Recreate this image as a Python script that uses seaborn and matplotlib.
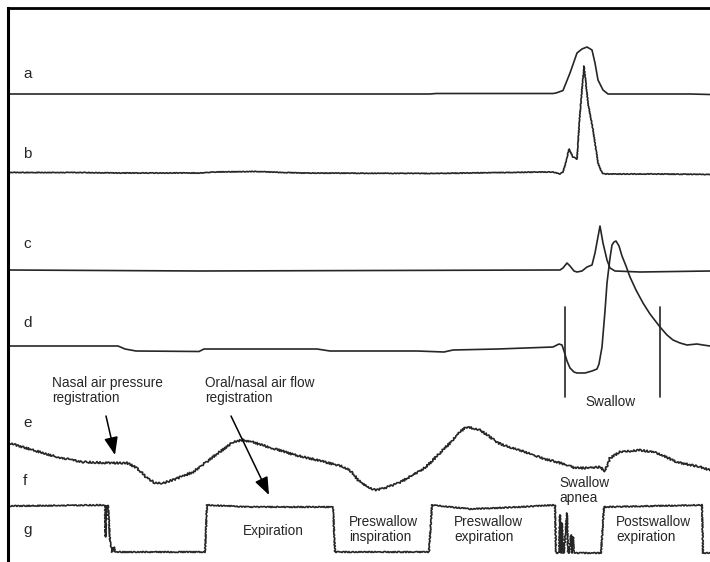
import matplotlib
matplotlib.use("Agg")
import matplotlib.pyplot as plt
import seaborn as sns

# traces: time (px along the sweep) and deflection
# (px, positive = upward) relative to each channel's resting line
t_a = [8, 60, 110, 430, 436, 553, 556, 563, 570, 577, 582, 587, 592, 595, 598, 603, 608, 690, 710]
v_a = [0, 0, 0, 0, 0.5, 0.5, 1, 3.5, 21, 41, 45, 47, 44, 31, 14, 4, 0, 0, -0.5]

t_b = [8, 80, 120, 200, 215, 255, 300, 430, 545, 553, 560, 563, 566, 569, 573, 577, 580, 584,
       588, 593, 598, 602, 605, 660, 710]
v_b = [0.5, 0.5, 0, 0, 1, 1.5, 0, -0.5, 1, 1, -1, 1, 11, 24, 16, 14, 60, 107,
       70, 43, 10, 0, -1, -1, -1.5]

t_c = [8, 200, 553, 560, 563, 567, 570, 574, 577, 582, 587, 592, 595, 600, 603, 607, 610, 615, 640, 710]
v_c = [1, 0, 1, 1, 3, 8, 5, 0, -1, 0, 4, 6, 18, 45, 28, 11, 3, 0, -1, 0]

t_d = [8, 118, 125, 136, 199, 204, 317, 330, 344, 417, 444, 453, 498, 553, 559, 562, 564, 567,
       570, 574, 577, 585, 592, 597, 599, 602, 605, 607, 610, 612, 614, 616, 619, 622, 626,
       630, 636, 643, 650, 660, 667, 673, 680, 687, 697, 703, 710]
v_d = [0, 0, -3, -5, -5.5, -3, -3, -5, -5, -5, -6, -4, -3, -1, 2, 1, -5, -15,
       -22, -26, -27, -27, -25, -23, -18, -1, 35, 63, 88, 101, 104, 105, 100, 90, 80,
       69, 56, 43, 32, 19, 11, 6, 3, 1, 2, 1, 0]

t_ef = [9, 33, 57, 83, 110, 127, 137, 147, 155, 163, 173, 193, 213, 233, 243, 252, 272, 295,
        317, 344, 352, 358, 367, 376, 385, 399, 413, 426, 440, 453, 460, 466, 472, 480, 490,
        498, 512, 525, 533, 545, 557, 567, 575, 590, 600, 605, 610, 620, 640, 657, 677, 700, 710]
v_ef = [17, 10, 3, -2, -3, -3, -8, -18, -23, -23, -20, -12, 3, 18, 20, 18, 12, 5,
        0, -7, -12, -20, -27, -30, -28, -23, -15, -7, 7, 20, 28, 33, 32, 30, 23,
        17, 12, 8, 5, 1, -2, -5, -8, -8, -7, -11, 2, 8, 10, 7, -2, -7, -10]

t_g = [9, 105, 105.5, 106.5, 108, 110, 112, 114, 115, 117, 205, 207, 250, 333, 335, 429, 432,
       470, 520, 555, 556, 559, 560, 561, 562, 563, 564, 567, 568, 569, 571, 572, 573, 574,
       575, 577, 601, 604, 702, 703, 710]
v_g = [-1, 0, -32, -1, 0, -35, -47, -42, -47, -47, -47, 0, -2, -2, -47, -47, 0,
       -4, -2, 0, -48, -48, -10, -48, -18, -48, -48, -8, -48, -48, -30, -48, -32, -48,
       -48, -48, -48, -2, 0, -48, -48]

channel_labels = ["a", "b", "c", "d", "e", "f", "g"]
annotations = [
    ("Nasal air pressure\nregistration", "left"),
    ("Oral/nasal air flow\nregistration", "left"),
    ("Swallow", "center"),
    ("Swallow\napnea", "left"),
    ("Expiration", "center"),
    ("Preswallow\ninspiration", "left"),
    ("Preswallow\nexpiration", "left"),
    ("Postswallow\nexpiration", "left"),
]

# layout (pixel frame of the figure); text y = baseline of the last line
baselines = {"a": 94, "b": 173, "c": 271, "d": 346, "ef": 460, "g": 505}
label_pos = [(23, 78), (23, 158), (23, 248), (23, 327), (23, 427), (23, 485), (23, 534)]
annot_pos = [(52, 402), (205, 402), (611, 406), (559, 502), (273, 535),
             (349, 541), (454, 541), (616, 541)]
arrows = [((106, 416), (115, 455)), ((231, 416), (269, 495))]
swallow_marks = [565, 660]

sns.set_theme(style="white")
plt.rcParams["font.family"] = ["Liberation Sans", "DejaVu Sans"]
ink = "#262626"

fig = plt.figure(figsize=(7.1, 5.62), dpi=100)
ax = fig.add_axes([0, 0, 1, 1])
ax.set_xlim(0, 710)
ax.set_ylim(562, 0)
ax.axis("off")

traces = [(t_a, v_a, "a", 0), (t_b, v_b, "b", 0.35), (t_c, v_c, "c", 0), (t_d, v_d, "d", 0),
          (t_ef, v_ef, "ef", 1.0), (t_g, v_g, "g", 0.6)]
for t, v, key, jitter in traces:
    y = [baselines[key] - val for val in v]
    sns.lineplot(x=t, y=y, ax=ax, sort=False, estimator=None, color=ink, lw=1.2)
    if jitter:
        ax.lines[-1].set_sketch_params(scale=jitter, length=3, randomness=2)

for x in swallow_marks:
    ax.plot([x, x], [307, 397], color=ink, lw=1.2)

# frame on the left and top
ax.plot([8, 8], [562, 8], color="black", lw=2.2, solid_capstyle="projecting")
ax.plot([8, 710], [8, 8], color="black", lw=2.0, solid_capstyle="projecting")

for lab, (x, y) in zip(channel_labels, label_pos):
    ax.text(x, y, lab, fontsize=11, color=ink, ha="left", va="baseline")

for (txt, ha), (x, y) in zip(annotations, annot_pos):
    ax.text(x, y, txt, fontsize=9.8, color=ink, ha=ha, va="baseline", linespacing=1.12)

for start, tip in arrows:
    ax.annotate("", xy=tip, xytext=start,
                arrowprops=dict(arrowstyle="-|>,head_length=0.9,head_width=0.35",
                                color="black", lw=1.1, shrinkA=0, shrinkB=0))

fig.savefig("out.png", dpi=100)
